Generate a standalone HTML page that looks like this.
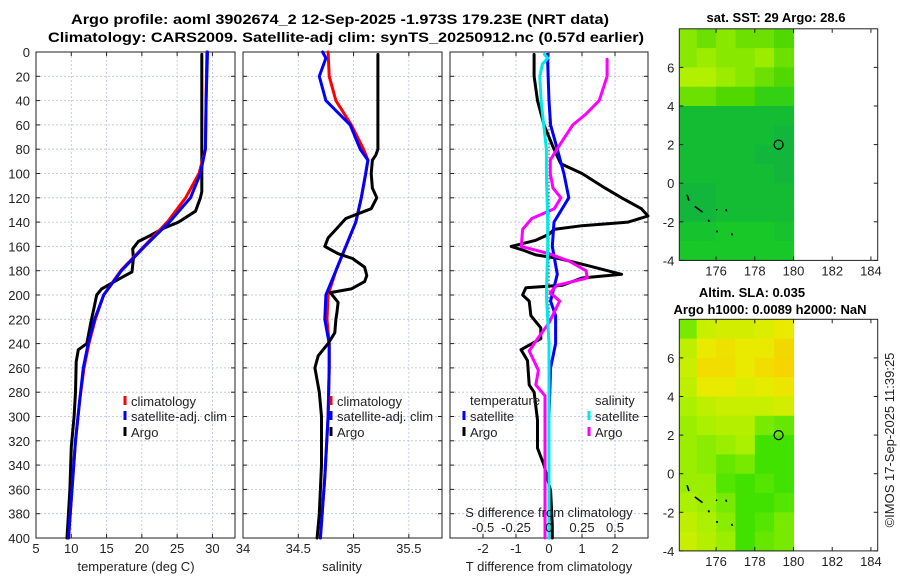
<!DOCTYPE html>
<html><head><meta charset="utf-8">
<style>
html,body{margin:0;padding:0;background:#fff;}
svg{display:block;font-family:"Liberation Sans",sans-serif;}
</style></head>
<body>
<svg id="fig" width="900" height="580" viewBox="0 0 900 580" xmlns="http://www.w3.org/2000/svg">
<g font-weight="bold" font-size="13.5" text-anchor="middle" fill="#000">
<text x="340" y="24" textLength="538" lengthAdjust="spacingAndGlyphs">Argo profile: aoml 3902674_2 12-Sep-2025 -1.973S 179.23E (NRT data)</text>
<text x="346" y="42" textLength="596" lengthAdjust="spacingAndGlyphs">Climatology: CARS2009. Satellite-adj clim: synTS_20250912.nc (0.57d earlier)</text>
</g>
<g id="layer"></g>
<text transform="translate(894,440) rotate(-90)" text-anchor="middle" font-size="13" fill="#222">©IMOS 17-Sep-2025 11:39:25</text>
</svg>
<script>
// ---------- data: temperature panel ----------
const climT_depth = [0,40,80,100,120,140,160,180,200,220,240,260,286,320,360,400];
const climT = [29.2,29.1,29.0,28.1,26.2,23.6,20.3,17.0,14.6,13.4,12.5,11.8,11.2,10.6,10.1,9.6];
const satT_depth = [0,40,80,100,120,140,160,180,200,220,240,260,286,320,360,400];
const satT = [29.3,29.1,29.0,28.3,26.9,23.9,20.4,17.1,14.6,13.3,12.4,11.7,11.2,10.6,10.1,9.6];
const argoT_depth = [2,40,80,115,120,131,140,145,151,156,162,170,181,187,195,200,211,222,240,245,255,280,300,325,360,400];
const argoT = [28.5,28.5,28.5,28.5,28.3,27.6,25.2,23.1,21.2,19.5,18.7,18.8,18.6,16.7,14.3,13.6,13.2,12.8,12.2,11.0,10.7,10.6,10.4,10.0,9.8,9.4];
// ---------- data: salinity panel ----------
const climS_depth = [0,20,40,60,80,89,100,120,140,160,180,200,220,240,260,300,350,400];
const climS = [34.77,34.78,34.84,34.98,35.09,35.13,35.11,35.07,35.02,34.93,34.84,34.77,34.76,34.78,34.78,34.77,34.74,34.70];
const satS_depth = [0,5,20,40,60,80,89,100,120,140,160,180,200,220,240,260,300,350,400];
const satS = [34.72,34.75,34.69,34.75,34.97,35.06,35.13,35.11,35.07,35.02,34.93,34.84,34.75,34.74,34.78,34.78,34.77,34.74,34.70];
const argoS_depth = [2,80,85,89,100,112,120,129,137,145,153,160,166,170,177,184,189,195,198,206,214,220,231,240,250,260,280,300,340,380,400];
const argoS = [35.22,35.22,35.2,35.17,35.16,35.17,35.21,35.16,34.93,34.85,34.77,34.74,34.86,34.99,35.1,35.12,35.1,34.98,34.79,34.86,34.85,34.84,34.83,34.77,34.68,34.65,34.69,34.71,34.71,34.69,34.67];
// ---------- data: difference panel ----------
const argoTd_depth = [2,20,40,60,80,92,100,112,120,129,135,140,143,146,150,155,160,163,167,170,176,183,186,192,194,200,205,217,227,236,245,254,274,280,303,326,340,361,389,400];
const argoTd = [-0.45,-0.45,-0.35,-0.15,0.15,0.36,1.0,1.7,2.2,2.8,3.0,2.4,1.0,0.15,0.0,-0.4,-1.15,-0.8,-0.4,0.3,1.2,2.2,1.0,0.4,-0.7,-0.8,-0.6,-0.55,-0.25,-0.25,-0.85,-0.65,-0.6,-0.45,-0.35,-0.35,-0.15,0.05,0.1,0.1];
const satTd_depth = [2,40,60,80,100,120,140,160,183,205,217,240,260,300,400];
const satTd = [-0.05,0.0,0.05,0.25,0.45,0.6,0.15,0.1,0.25,0.05,0.2,0.2,0.05,0.0,0.0];
const argoSd_depth = [6,20,40,51,60,80,89,100,112,120,129,137,146,160,166,172,180,186,192,198,205,223,235,246,262,274,283,331,400];
const argoSd = [0.44,0.44,0.38,0.28,0.18,0.06,0.01,0.01,0.03,0.09,0.04,-0.13,-0.2,-0.21,0.0,0.15,0.28,0.29,0.06,0.01,0.08,0.0,-0.08,-0.15,-0.08,-0.1,-0.03,-0.03,-0.03];
const satSd_depth = [2,5,10,20,40,60,80,100,140,160,200,240,300,400];
const satSd = [-0.035,-0.01,-0.05,-0.07,-0.06,-0.04,-0.02,-0.02,-0.01,-0.01,-0.02,0,0,0];
const depthTicks = [0,20,40,60,80,100,120,140,160,180,200,220,240,260,280,300,320,340,360,380,400];
const tTicks = [5,10,15,20,25,30];
const sTicks = [34,34.5,35,35.5];
const dTTicks = [-2,-1,0,1,2];
const dSTicks = [-0.5,-0.25,0,0.25,0.5];
const dSTickLabels = ['-0.5','-0.25','0','0.25','0.5'];
const mapLonTicks = [176,178,180,182,184];
const mapLatTicks = [6,4,2,0,-2,-4];
const sstGrid = [
[29.4,29.3,29.4,29.3,29.3,29.2],
[29.4,29.5,29.4,29.4,29.5,29.3],
[29.6,29.6,29.5,29.4,29.3,29.2],
[29.3,29.3,29.2,29.2,29.1,29.1],
[28.9,28.9,28.9,28.9,28.9,28.9],
[28.9,28.9,28.9,28.9,28.9,28.85],
[28.9,28.9,28.9,28.9,28.85,28.85],
[28.9,28.9,28.9,28.9,28.9,28.85],
[28.85,28.85,28.9,28.9,28.9,28.9],
[28.85,28.85,28.9,28.9,28.9,28.9],
[28.95,28.95,29.0,29.0,29.0,28.95],
[29.0,29.0,29.0,29.0,29.0,29.0]];
const slaGrid = [
[0.2,0.5,0.55,0.55,0.6,0.7],
[0.45,0.7,0.8,0.7,0.7,0.9],
[0.5,0.85,0.85,0.7,0.85,0.95],
[0.45,0.7,0.7,0.6,0.65,0.75],
[0.35,0.45,0.5,0.5,0.5,0.55],
[0.3,0.35,0.4,0.4,0.2,0.15],
[0.3,0.25,0.3,0.35,0.05,0.05],
[0.3,0.25,0.15,0.2,0.05,0.05],
[0.3,0.3,0.1,0.05,0.1,0.05],
[0.35,0.3,0.2,0.05,0.05,0.1],
[0.45,0.35,0.25,0.05,0.1,0.2],
[0.5,0.4,0.3,0.05,0.15,0.2]];

// ---------- helpers ----------
const NS='http://www.w3.org/2000/svg';
const layer=document.getElementById('layer');
function mk(tag,attrs,parent){const e=document.createElementNS(NS,tag);for(const k in attrs)e.setAttribute(k,attrs[k]);(parent||layer).appendChild(e);return e;}
const Y0=52,Y1=538;
const yD=d=>Y0+(d/400)*(Y1-Y0);
const P1={x0:36,x1:235,v0:5,v1:33.2};
const P2={x0:243,x1:442,v0:34,v1:35.8};
const P3={x0:450,x1:648,v0:-3,v1:3};
const sx=(P,v)=>P.x0+(v-P.v0)/(P.v1-P.v0)*(P.x1-P.x0);
const sxS3=v=>sx(P3,v*4);

function panelFrame(P,name,xt,xlabels,grid){
  const g=mk('g',{});
  
  
  depthTicks.forEach(d=>{
    const l=mk('line',{x1:P.x0,x2:P.x1,y1:yD(d),y2:yD(d),stroke:'#b8c0dc','stroke-width':0.8,'stroke-dasharray':'2,2'},g);
    
    
    mk('line',{x1:P.x0,x2:P.x0+4,y1:yD(d),y2:yD(d),stroke:'#222'},g);
    mk('line',{x1:P.x1-4,x2:P.x1,y1:yD(d),y2:yD(d),stroke:'#222'},g);
  });
  grid.forEach(v=>{
    const x=sx(P,v);
    const l=mk('line',{x1:x,x2:x,y1:Y0,y2:Y1,stroke:'#b8c0dc','stroke-width':0.8,'stroke-dasharray':'2,2'},g);
    
    
  });
  xt.forEach((v,i)=>{
    const x=sx(P,v);
    mk('line',{x1:x,x2:x,y1:Y1,y2:Y1-4,stroke:'#222'},g);
    mk('line',{x1:x,x2:x,y1:Y0,y2:Y0+4,stroke:'#222'},g);
    const t=mk('text',{x:x,y:Y1+15,'text-anchor':'middle','font-size':13,fill:'#222'},g);
    t.textContent=xlabels[i];
    
    
  });
  mk('rect',{x:P.x0,y:Y0,width:P.x1-P.x0,height:Y1-Y0,fill:'none',stroke:'#222','stroke-width':1},g);
  return g;
}
function profile(P,depths,vals,color,name,fx){
  const pts=depths.map((d,i)=>(fx?fx(vals[i]):sx(P,vals[i])).toFixed(1)+','+yD(d).toFixed(1)).join(' ');
  const p=mk('polyline',{points:pts,fill:'none',stroke:color,'stroke-width':3,'stroke-linejoin':'round','stroke-linecap':'round'});
  
  
  return p;
}
function legendEntry(x,y,color,label,name){
  const g=mk('g',{});
  
  
  mk('line',{x1:x,x2:x,y1:y-10,y2:y-1,stroke:color,'stroke-width':3},g);
  const t=mk('text',{x:x+6,y:y,'font-size':13,fill:'#222'},g);
  t.textContent=label;
}

// ---------- panel 1 ----------
panelFrame(P1,'temperature-panel',tTicks,tTicks.map(String),[10,15,20,25,30]);
depthTicks.forEach(d=>{
  const t=mk('text',{x:30,y:yD(d)+5,'text-anchor':'end','font-size':13,fill:'#222'});
  t.textContent=String(d);
  
  
});
{const t=mk('text',{x:136,y:571,'text-anchor':'middle','font-size':13,fill:'#222'});t.textContent='temperature (deg C)';

}
profile(P1,argoT_depth,argoT,'#000000','argo-temperature-line');
profile(P1,climT_depth,climT,'#ff0000','climatology-temperature-line');
profile(P1,satT_depth,satT,'#0000ff','satellite-temperature-line');
legendEntry(125,406,'#ff0000','climatology','legend-climatology');
legendEntry(125,421,'#0000ff','satellite-adj. clim','legend-satellite-adj');
legendEntry(125,437,'#000000','Argo','legend-argo');

// ---------- panel 2 ----------
panelFrame(P2,'salinity-panel',sTicks,sTicks.map(String),[34.5,35,35.5]);
{const t=mk('text',{x:342,y:571,'text-anchor':'middle','font-size':13,fill:'#222'});t.textContent='salinity';

}
profile(P2,climS_depth,climS,'#ff0000','climatology-salinity-line');
profile(P2,satS_depth,satS,'#0000ff','satellite-salinity-line');
profile(P2,argoS_depth,argoS,'#000000','argo-salinity-line');
legendEntry(331,406,'#ff0000','climatology','legend-climatology-2');
legendEntry(331,421,'#0000ff','satellite-adj. clim','legend-satellite-adj-2');
legendEntry(331,437,'#000000','Argo','legend-argo-2');

// ---------- panel 3 ----------
panelFrame(P3,'difference-panel',dTTicks,dTTicks.map(String),dTTicks);
{const z=mk('line',{x1:sx(P3,0),x2:sx(P3,0),y1:Y0,y2:Y1,stroke:'#444','stroke-width':1,'stroke-dasharray':'1.5,2'});

}
{const t=mk('text',{x:549,y:571,'text-anchor':'middle','font-size':13,fill:'#222'});t.textContent='T difference from climatology';

}
profile(P3,argoTd_depth,argoTd,'#000000','argo-t-difference-line');
profile(P3,satTd_depth,satTd,'#0000ff','satellite-t-difference-line');
profile(P3,argoSd_depth,argoSd,'#ff00ff','argo-s-difference-line',sxS3);
profile(P3,satSd_depth,satSd,'#00e8e8','satellite-s-difference-line',sxS3);
{const t=mk('text',{x:549,y:517,'text-anchor':'middle','font-size':13,fill:'#222'});t.textContent='S difference from climatology';

}
dSTicks.forEach((v,i)=>{
  const t=mk('text',{x:sxS3(v),y:532,'text-anchor':'middle','font-size':13,fill:'#222'});
  t.textContent=dSTickLabels[i];
  
  
});
{const t=mk('text',{x:470,y:405,'font-size':13,fill:'#222'});t.textContent='temperature';


const t2=mk('text',{x:595,y:405,'font-size':13,fill:'#222'});t2.textContent='salinity';

}
legendEntry(464,421,'#0000ff','satellite','legend-t-satellite');
legendEntry(464,437,'#000000','Argo','legend-t-argo');
legendEntry(589,421,'#00e8e8','satellite','legend-s-satellite');
legendEntry(589,437,'#ff00ff','Argo','legend-s-argo');

// ---------- maps ----------
const MX0=679.3,MX1=877.7,LON0=174.1,LON1=184.35;
const lonX=l=>MX0+(l-LON0)/(LON1-LON0)*(MX1-MX0);
function mix(a,b,f){return a.map((v,i)=>Math.round(v+(b[i]-v)*f));}
function ramp(stops,f){f=Math.max(0,Math.min(1,f));const n=stops.length-1;const i=Math.min(n-1,Math.floor(f*n));const c=mix(stops[i],stops[i+1],f*n-i);return 'rgb('+c.join(',')+')';}
const sstStops=[[16,176,64],[24,200,40],[80,216,0],[136,232,0],[176,240,0]];
const slaStops=[[48,224,0],[168,240,0],[232,236,0],[248,208,0]];
function drawMap(top,name,title,grid,colorFn){
  const latY=l=>top+(8-l)*19.3;
  const g=mk('g',{});
  
  
  grid.forEach((row,r)=>row.forEach((v,c)=>{
    const lo=Math.max(LON0,174+c);
    const cell=mk('rect',{x:lonX(lo).toFixed(1),y:latY(8-r).toFixed(1),width:(lonX(175+c)-lonX(lo)+0.6).toFixed(1),height:19.9,fill:colorFn(v)},g);
    
    
  }));
  [[174.5,-0.6,174.6,-0.9],[174.9,-1.2,175.3,-1.5],[175.6,-1.9,175.65,-2.0],[176.0,-1.35,176.05,-1.4],[176.5,-1.35,176.55,-1.45],[176.0,-2.5,176.1,-2.5],[176.8,-2.6,176.85,-2.7]].forEach(s=>{
    const il=mk('line',{x1:lonX(s[0]),y1:latY(s[1]),x2:lonX(s[2]),y2:latY(s[3]),stroke:'#000','stroke-width':1.6},g);
    
    
  });
  const c=mk('circle',{cx:lonX(179.23),cy:latY(2.0),r:4.5,fill:'none',stroke:'#000','stroke-width':1.2},g);
  
  
  const bottom=latY(-4);
  mk('rect',{x:MX0,y:top,width:MX1-MX0,height:bottom-top,fill:'none',stroke:'#222'},g);
  mapLonTicks.forEach(l=>{
    const x=lonX(l);
    mk('line',{x1:x,x2:x,y1:bottom,y2:bottom-4,stroke:'#222'},g);
    mk('line',{x1:x,x2:x,y1:top,y2:top+4,stroke:'#222'},g);
    const t=mk('text',{x:x,y:bottom+15,'text-anchor':'middle','font-size':13,fill:'#222'},g);
    t.textContent=String(l);
    
    
  });
  mapLatTicks.forEach(l=>{
    const y=latY(l);
    mk('line',{x1:MX0,x2:MX0+4,y1:y,y2:y,stroke:'#222'},g);
    mk('line',{x1:MX1-4,x2:MX1,y1:y,y2:y,stroke:'#222'},g);
    const t=mk('text',{x:MX0-5,y:y+5,'text-anchor':'end','font-size':13,fill:'#222'},g);
    t.textContent=String(l);
    
    
  });
  title.forEach(s=>{
    const t=mk('text',{x:s[1],y:s[2],'text-anchor':'middle','font-size':13,'font-weight':'bold',fill:'#000'},g);
    t.textContent=s[0];
    
    
  });
}
drawMap(28.8,'sst-map',[['sat. SST: 29 Argo: 28.6',776,22]],sstGrid,v=>ramp(sstStops,(v-28.8)/0.8));
drawMap(319.3,'sla-map',[['Altim. SLA: 0.035',752,297],['Argo h1000: 0.0089 h2000: NaN',770,314]],slaGrid,v=>ramp(slaStops,v));
</script>
</body></html>
